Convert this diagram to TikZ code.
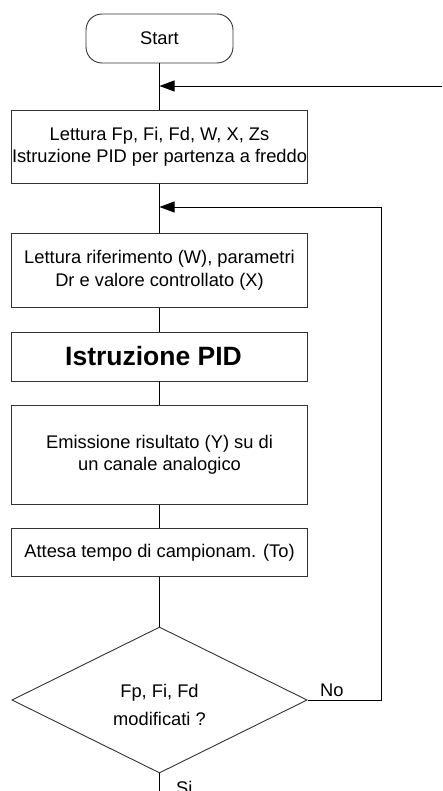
\documentclass[tikz,border=0pt]{standalone}
\usepackage{fontspec}
\setmainfont{Liberation Sans}
\usetikzlibrary{shapes.geometric,arrows.meta}
\begin{document}
\begin{tikzpicture}[x=1pt,y=-1pt,
  txt/.style={font=\fontsize{18.3}{22.5}\selectfont},
  boxst/.style={draw=black!80,line width=0.9pt,minimum width=295.3pt,inner sep=0pt,align=center,txt},
  termst/.style={draw=black!80,line width=0.9pt,rounded corners=16pt,minimum width=147pt,minimum height=49pt,inner sep=0pt,txt},
  diast/.style={draw=black!80,line width=0.9pt,diamond,minimum width=295.3pt,minimum height=146pt,inner sep=0pt},
  conn/.style={line width=0.9pt,black},
  arr/.style={conn,-{Triangle[length=15pt,width=11pt]}}
]
\useasboundingbox (0,0) rectangle (442,791);
\clip (0,0) rectangle (442,791);
\fill[white] (0,0) rectangle (442,791);

\node[termst] (start) at (159.5,38.5) {Start};
\node[boxst,minimum height=72.3pt] (b1) at (159.5,147) {Lettura Fp, Fi, Fd, W, X, Zs\\Istruzione PID per partenza a freddo};
\node[boxst,minimum height=74pt] (b2) at (159.5,270.5) {Lettura riferimento (W), parametri\\Dr e valore controllato (X)};
\node[boxst,minimum height=49pt] (b3) at (159.5,356.5) {\fontsize{26.5}{30}\selectfont\bfseries Istruzione PID\hspace{12pt}};
\node[boxst,minimum height=98.3pt] (b4) at (159.5,455) {\raisebox{0pt}{}Emissione risultato (Y) su di\\un canale analogico};
\node[boxst,minimum height=48.7pt] (b5) at (159.5,552.3) {Attesa tempo di campionam. (To)};
\node[diast] (d) at (159.5,700) {};
\node[txt,align=center,font=\fontsize{18.3}{27.5}\selectfont] (dq) at (159.5,705) {Fp, Fi, Fd\\modificati ?};

\node[txt,anchor=base west,inner sep=0pt] (no) at (320,696.7) {No};
\node[txt,anchor=base west,inner sep=0pt] (si) at (176,794.5) {Si};

\coordinate (j1) at (159.5,86);
\coordinate (j2) at (159.5,207);
\coordinate (e1) at (443,86);
\coordinate (bot) at (159.5,800);

\draw[conn] (start.south) -- (b1.north);
\draw[conn] (b1.south) -- (b2.north);
\draw[conn] (b2.south) -- (b3.north);
\draw[conn] (b3.south) -- (b4.north);
\draw[conn] (b4.south) -- (b5.north);
\draw[conn] (b5.south) -- (d.north);
\draw[conn] (d.south) -- (bot);
\draw[arr] (e1) -- (j1);
\draw[arr] (d.east) -- ++(74,0) |- (j2);
\end{tikzpicture}
\end{document}
